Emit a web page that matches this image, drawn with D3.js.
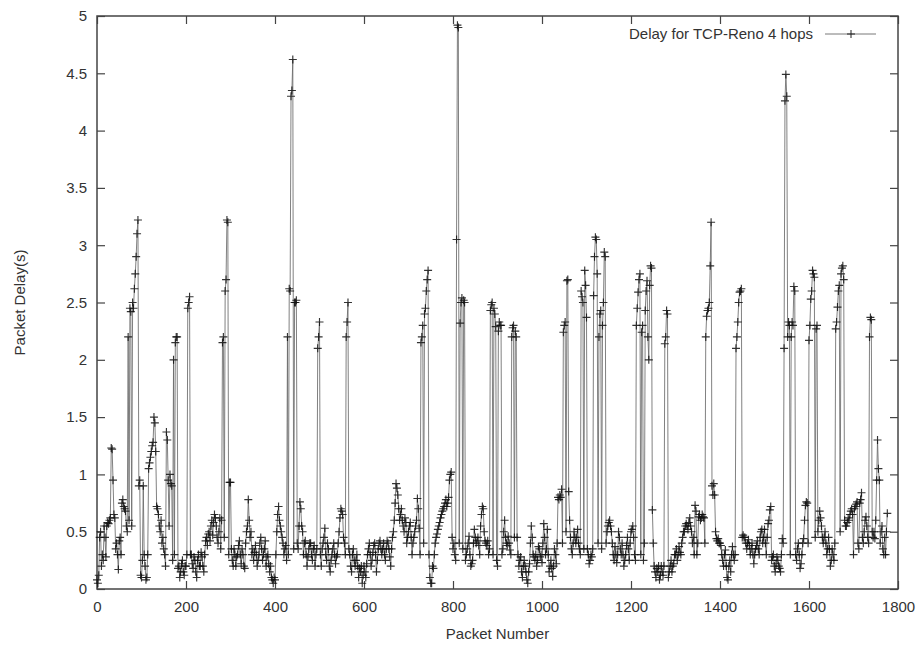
<!DOCTYPE html>
<html>
<head>
<meta charset="utf-8">
<script src="https://cdn.jsdelivr.net/npm/d3@7"></script>
<style>
  body { margin: 0; background: #fff; }
  svg { display: block; }
  .axis text { font-family: "Liberation Sans", Arial, sans-serif; font-size: 15px; fill: #333; }
  .axis path.domain { display: none; }
  .axis line { stroke: #444; stroke-width: 1.2; }
  .label { font-family: "Liberation Sans", Arial, sans-serif; font-size: 15px; fill: #333; }
</style>
</head>
<body>
<div id="chart"></div>
<script>
// Packet delays, one value every 2 packets.
const packetStep = 2
const delay0000 = [0.08, 0.05, 0.12, 0.45, 0.5, 0.2, 0.3, 0.25, 0.55, 0.45, 0.28, 0.55, 0.58, 0.57, 0.6, 0.62, 1.23, 1.22, 0.95, 0.65,
  0.62, 0.35, 0.4, 0.3, 0.17, 0.42, 0.45, 0.3, 0.75, 0.78, 0.72, 0.7, 0.68, 0.55, 0.5, 2.2, 0.6, 2.45, 2.42, 0.55,
  2.5, 2.45, 2.62, 2.75, 2.9, 3.1, 3.22, 0.9, 0.95, 0.12]
const delay0100 = [0.1, 0.25, 0.9, 0.3, 0.2, 0.08, 0.1, 0.3, 1.05, 1.1, 1.15, 1.2, 1.25, 1.28, 1.5, 1.45, 1.2, 0.72, 0.7, 0.65,
  0.55, 0.5, 0.6, 0.4, 0.45, 0.35, 0.3, 0.2, 1.37, 1.3, 0.95, 0.55, 1.0, 0.92, 0.9, 0.25, 2.0, 0.3, 2.15, 2.2,
  2.2, 0.18, 0.2, 0.1, 0.15, 0.22, 0.25, 0.15, 0.12, 0.2]
const delay0200 = [0.2, 0.3, 2.45, 2.5, 2.55, 0.3, 0.3, 0.22, 0.18, 0.28, 0.25, 0.15, 0.1, 0.25, 0.3, 0.2, 0.2, 0.32, 0.28, 0.2,
  0.15, 0.3, 0.42, 0.45, 0.38, 0.48, 0.5, 0.42, 0.55, 0.6, 0.47, 0.58, 0.65, 0.62, 0.55, 0.45, 0.4, 0.5, 0.62, 0.35,
  0.6, 2.15, 2.2, 0.45, 2.6, 2.7, 3.22, 3.2, 0.3, 0.93]
const delay0300 = [0.93, 0.35, 0.25, 0.2, 0.35, 0.3, 0.2, 0.28, 0.3, 0.38, 0.42, 0.3, 0.22, 0.35, 0.3, 0.2, 0.18, 0.4, 0.5, 0.55,
  0.78, 0.6, 0.45, 0.5, 0.3, 0.35, 0.25, 0.32, 0.38, 0.3, 0.2, 0.25, 0.3, 0.4, 0.45, 0.35, 0.25, 0.3, 0.35, 0.42,
  0.2, 0.28, 0.3, 0.22, 0.15, 0.2, 0.1, 0.08, 0.05, 0.1]
const delay0400 = [0.08, 0.3, 0.5, 0.65, 0.72, 0.6, 0.55, 0.5, 0.45, 0.4, 0.3, 0.35, 0.38, 0.25, 2.2, 0.3, 2.62, 2.6, 4.3, 4.35,
  4.62, 0.35, 2.5, 2.5, 2.52, 0.4, 0.35, 0.55, 0.76, 0.7, 0.55, 0.5, 0.3, 0.4, 0.42, 0.3, 0.2, 0.28, 0.35, 0.4,
  0.4, 0.3, 0.25, 0.35, 0.38, 0.2, 0.3, 0.35, 2.1, 2.2]
const delay0500 = [2.33, 0.3, 0.2, 0.35, 0.4, 0.45, 0.53, 0.3, 0.25, 0.4, 0.35, 0.2, 0.15, 0.25, 0.3, 0.35, 0.4, 0.3, 0.22, 0.28,
  0.3, 0.4, 0.5, 0.62, 0.7, 0.68, 0.65, 0.45, 0.4, 0.3, 2.2, 2.33, 2.5, 0.35, 0.3, 0.2, 0.15, 0.3, 0.35, 0.25,
  0.2, 0.25, 0.3, 0.2, 0.1, 0.18, 0.15, 0.2, 0.05, 0.12]
const delay0600 = [0.2, 0.15, 0.1, 0.22, 0.3, 0.35, 0.4, 0.3, 0.2, 0.25, 0.32, 0.38, 0.4, 0.3, 0.15, 0.25, 0.35, 0.4, 0.42, 0.35,
  0.3, 0.35, 0.4, 0.3, 0.25, 0.35, 0.42, 0.4, 0.35, 0.28, 0.2, 0.35, 0.45, 0.5, 0.6, 0.75, 0.92, 0.88, 0.82, 0.7,
  0.6, 0.65, 0.7, 0.6, 0.55, 0.5, 0.62, 0.58, 0.4, 0.45]
const delay0700 = [0.5, 0.55, 0.58, 0.45, 0.3, 0.4, 0.45, 0.5, 0.55, 0.6, 0.79, 0.7, 0.53, 0.3, 2.15, 2.2, 2.3, 0.4, 2.4, 2.45,
  2.6, 2.7, 2.78, 0.3, 0.1, 0.05, 0.05, 0.2, 0.18, 0.3, 0.4, 0.45, 0.48, 0.52, 0.55, 0.58, 0.62, 0.65, 0.68, 0.7,
  0.72, 0.75, 0.78, 0.72, 0.75, 0.8, 0.95, 1.0, 1.02, 0.45]
const delay0800 = [0.35, 0.4, 0.3, 0.25, 3.05, 4.92, 4.9, 0.4, 2.32, 2.5, 2.54, 0.35, 2.52, 2.5, 0.25, 0.3, 0.35, 0.4, 0.46, 0.3,
  0.2, 0.22, 0.25, 0.4, 0.52, 0.45, 0.4, 0.42, 0.45, 0.38, 0.3, 0.55, 0.65, 0.72, 0.7, 0.5, 0.42, 0.4, 0.38, 0.42,
  0.3, 0.35, 2.43, 2.48, 2.5, 0.3, 2.45, 2.4, 2.29, 0.25]
const delay0900 = [0.2, 2.25, 2.33, 2.3, 2.3, 0.3, 0.35, 0.5, 0.6, 0.45, 0.4, 0.38, 0.46, 0.4, 0.34, 0.3, 2.2, 2.28, 2.3, 0.45,
  2.25, 2.2, 0.45, 0.3, 0.2, 0.25, 0.28, 0.15, 0.1, 0.2, 0.25, 0.2, 0.15, 0.08, 0.05, 0.15, 0.22, 0.4, 0.55, 0.45,
  0.3, 0.28, 0.25, 0.3, 0.2, 0.25, 0.37, 0.35, 0.28, 0.3]
const delay1000 = [0.23, 0.4, 0.57, 0.45, 0.3, 0.35, 0.52, 0.3, 0.15, 0.2, 0.25, 0.18, 0.11, 0.2, 0.35, 0.3, 0.22, 0.4, 0.8, 0.78,
  0.82, 0.8, 0.87, 0.4, 2.24, 2.3, 2.33, 0.5, 2.69, 2.7, 0.85, 0.6, 0.45, 0.35, 0.3, 0.4, 0.5, 0.45, 0.4, 0.45,
  0.52, 0.4, 0.35, 0.3, 2.6, 2.55, 2.5, 0.35, 2.78, 2.65]
const delay1100 = [2.37, 0.35, 0.3, 0.22, 0.25, 0.3, 0.28, 0.35, 2.56, 2.9, 3.07, 3.05, 2.75, 0.4, 2.2, 2.4, 2.43, 0.35, 2.3, 2.5,
  2.94, 2.9, 0.4, 0.5, 0.55, 0.58, 0.6, 0.55, 0.5, 0.4, 0.3, 0.25, 0.37, 0.3, 0.23, 0.3, 0.5, 0.45, 0.35, 0.3,
  0.4, 0.3, 0.2, 0.25, 0.3, 0.38, 0.45, 0.35, 0.25, 0.4]
const delay1200 = [0.5, 0.52, 0.55, 0.45, 0.3, 0.25, 2.3, 2.45, 2.59, 2.7, 2.75, 0.3, 2.24, 2.3, 0.25, 0.4, 2.43, 2.6, 2.69, 2.2,
  2.0, 2.65, 2.82, 2.8, 0.69, 0.4, 0.2, 0.15, 0.1, 0.18, 0.15, 0.2, 0.08, 0.12, 0.2, 0.15, 0.12, 0.2, 2.14, 2.2,
  2.43, 2.4, 0.1, 0.15, 0.2, 0.25, 0.15, 0.2, 0.22, 0.3]
const delay1300 = [0.3, 0.35, 0.25, 0.3, 0.37, 0.32, 0.3, 0.4, 0.45, 0.5, 0.5, 0.55, 0.57, 0.55, 0.52, 0.58, 0.62, 0.55, 0.5, 0.4,
  0.45, 0.3, 0.73, 0.68, 0.3, 0.4, 0.63, 0.65, 0.6, 0.62, 0.65, 0.63, 0.62, 0.4, 2.2, 2.38, 2.43, 2.45, 2.5, 2.82,
  3.2, 0.9, 0.82, 0.92, 0.82, 0.5, 0.44, 0.42, 0.44, 0.4]
const delay1400 = [0.4, 0.38, 0.3, 0.25, 0.2, 0.3, 0.34, 0.2, 0.1, 0.08, 0.2, 0.25, 0.15, 0.3, 0.37, 0.3, 0.25, 0.3, 2.1, 2.2,
  2.33, 2.5, 2.59, 2.6, 2.62, 0.45, 0.47, 0.45, 0.45, 0.4, 0.35, 0.4, 0.43, 0.38, 0.3, 0.35, 0.4, 0.3, 0.22, 0.3,
  0.35, 0.38, 0.42, 0.35, 0.3, 0.45, 0.5, 0.52, 0.4, 0.45]
const delay1500 = [0.52, 0.4, 0.3, 0.45, 0.57, 0.6, 0.69, 0.72, 0.25, 0.28, 0.3, 0.2, 0.15, 0.22, 0.28, 0.25, 0.2, 0.18, 0.15, 0.3,
  0.44, 0.4, 2.1, 4.26, 4.49, 4.3, 2.2, 2.33, 2.3, 0.3, 2.2, 2.33, 2.3, 2.64, 2.6, 0.3, 0.25, 0.35, 0.4, 0.3,
  0.18, 0.22, 0.3, 0.4, 0.44, 0.6, 0.73, 0.76, 0.75, 0.4]
const delay1600 = [2.17, 2.3, 2.53, 2.6, 2.78, 2.75, 2.72, 0.45, 2.27, 2.3, 0.5, 0.6, 0.68, 0.62, 0.55, 0.45, 0.4, 0.45, 0.5, 0.4,
  0.3, 0.35, 0.45, 0.35, 0.2, 0.25, 0.35, 0.3, 0.25, 0.4, 2.27, 2.33, 2.46, 2.6, 2.65, 0.5, 2.75, 2.8, 2.82, 2.7,
  0.6, 0.55, 0.55, 0.58, 0.62, 0.6, 0.65, 0.68, 0.7, 0.65]
const delay1700 = [0.3, 0.7, 0.72, 0.74, 0.76, 0.4, 0.35, 0.75, 0.78, 0.84, 0.45, 0.4, 0.5, 0.6, 0.63, 0.55, 0.45, 0.4, 2.2, 2.37,
  2.35, 0.5, 0.45, 0.5, 0.44, 0.6, 0.95, 1.3, 1.05, 0.95, 0.4, 0.5, 0.55, 0.35, 0.3, 0.45, 0.3, 0.5, 0.66]

const blocks = [
  [0, delay0000], [100, delay0100], [200, delay0200], [300, delay0300],
  [400, delay0400], [500, delay0500], [600, delay0600], [700, delay0700],
  [800, delay0800], [900, delay0900], [1000, delay1000], [1100, delay1100],
  [1200, delay1200], [1300, delay1300], [1400, delay1400], [1500, delay1500],
  [1600, delay1600], [1700, delay1700]
]
const data = blocks.flatMap(([start, values]) =>
  values.map((delay, i) => ({ packet: start + i * packetStep, delay })))

const xTicks = [0, 200, 400, 600, 800, 1000, 1200, 1400, 1600, 1800]
const yTicks = [0, 0.5, 1, 1.5, 2, 2.5, 3, 3.5, 4, 4.5, 5]
const seriesLabel = 'Delay for TCP-Reno 4 hops'

const width = 924
const height = 648
const margin = { top: 16, right: 26, bottom: 59, left: 97 }

const svg = d3.select('#chart')
  .append('svg')
  .attr('width', width)
  .attr('height', height)

const x = d3.scaleLinear()
  .domain([0, 1800])
  .range([margin.left, width - margin.right])
const y = d3.scaleLinear()
  .domain([0, 5])
  .range([height - margin.bottom, margin.top])

/**
 * Axes, ticks pointing inwards and mirrored.
 */
svg.append('g')
  .attr('class', 'axis')
  .attr('transform', `translate(0,${y(0)})`)
  .call(d3.axisBottom(x).tickValues(xTicks).tickSizeInner(-8).tickSizeOuter(0).tickPadding(12).tickFormat(d3.format('d')))
svg.append('g')
  .attr('class', 'axis')
  .attr('transform', `translate(0,${y(5)})`)
  .call(d3.axisTop(x).tickValues(xTicks).tickSizeInner(-8).tickSizeOuter(0).tickFormat(''))
svg.append('g')
  .attr('class', 'axis')
  .attr('transform', `translate(${x(0)},0)`)
  .call(d3.axisLeft(y).tickValues(yTicks).tickSizeInner(-8).tickSizeOuter(0).tickPadding(10).tickFormat(d3.format('')))
svg.append('g')
  .attr('class', 'axis')
  .attr('transform', `translate(${x(1800)},0)`)
  .call(d3.axisRight(y).tickValues(yTicks).tickSizeInner(-8).tickSizeOuter(0).tickFormat(''))

// Frame
svg.append('rect')
  .attr('x', x(0))
  .attr('y', y(5))
  .attr('width', x(1800) - x(0))
  .attr('height', y(0) - y(5))
  .attr('fill', 'none')
  .attr('stroke', '#444')
  .attr('stroke-width', 1.5)

/**
 * Series: line with plus markers.
 */
const plus = (cx, cy, r) => `M${cx - r},${cy}h${2 * r}M${cx},${cy - r}v${2 * r}`

const line = d3.line()
  .x(d => x(d.packet))
  .y(d => y(d.delay))

svg.append('path')
  .datum(data)
  .attr('d', line)
  .attr('fill', 'none')
  .attr('stroke', '#6a6a6a')
  .attr('stroke-width', 0.85)

svg.append('g')
  .selectAll('path')
  .data(data)
  .enter()
  .append('path')
  .attr('d', d => plus(x(d.packet), y(d.delay), 4))
  .attr('stroke', '#111')
  .attr('stroke-opacity', 0.85)
  .attr('stroke-width', 1.15)

/**
 * Legend.
 */
svg.append('text')
  .attr('class', 'label')
  .attr('x', 813)
  .attr('y', 39)
  .attr('text-anchor', 'end')
  .text(seriesLabel)
svg.append('line')
  .attr('x1', 825).attr('x2', 876)
  .attr('y1', 34).attr('y2', 34)
  .attr('stroke', '#6a6a6a')
  .attr('stroke-width', 0.9)
svg.append('path')
  .attr('d', plus(851, 34, 4))
  .attr('stroke', '#222')

/**
 * Axis titles.
 */
svg.append('text')
  .attr('class', 'label')
  .attr('x', (x(0) + x(1800)) / 2)
  .attr('y', 639)
  .attr('text-anchor', 'middle')
  .text('Packet Number')
svg.append('text')
  .attr('class', 'label')
  .attr('transform', `translate(25,${(y(0) + y(5)) / 2}) rotate(-90)`)
  .attr('text-anchor', 'middle')
  .text('Packet Delay(s)')
</script>
</body>
</html>
